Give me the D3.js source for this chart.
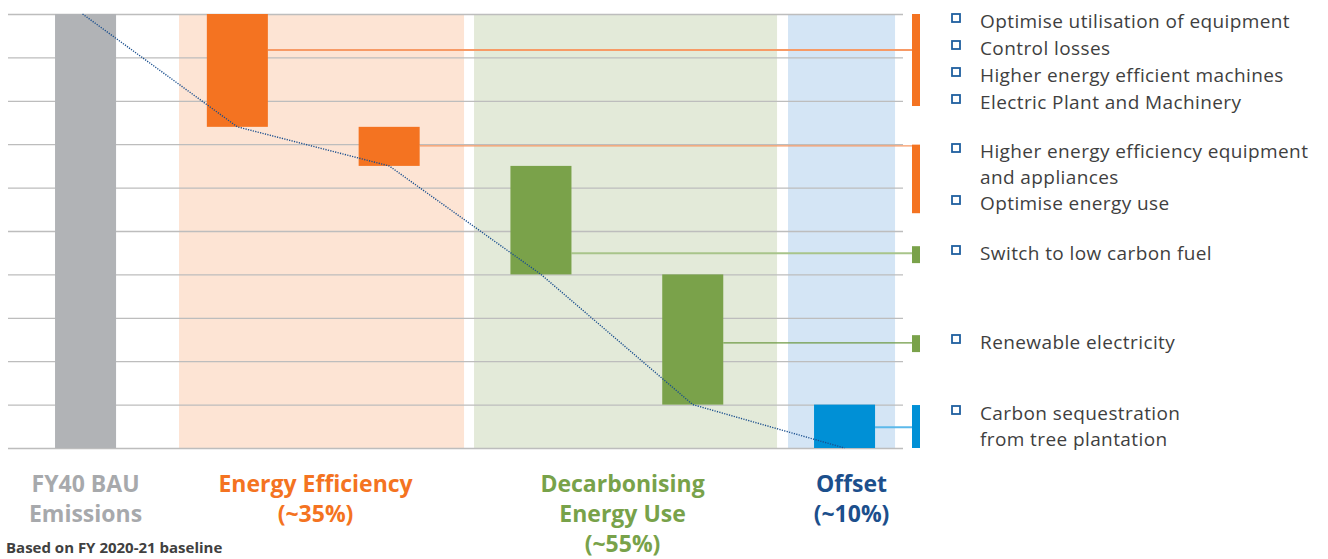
<!DOCTYPE html>
<html>
<head>
<meta charset="utf-8">
<script src="https://cdn.jsdelivr.net/npm/d3@7"></script>
<style>
  html, body { margin: 0; padding: 0; background: #fff; }
  svg { display: block; font-family: "Open Sans", "Noto Sans", sans-serif; }
</style>
</head>
<body>
<script>
// waterfall steps: name, group, drop in % of BAU
const steps = ["BAU", "EE1", "EE2", "DE1", "DE2", "OFF"]
const stepGroup = ["bau", "ee", "ee", "de", "de", "off"]
const stepDrop = [100, 26, 9, 25, 30, 10]

// lever markers on the right (value ranges) and connector levels
const leverRanges = [[100, 78.8], [69.9, 54.1], [46.5, 42.6], [26, 22.1], [9.9, 0]]
const leverFrom = ["EE1", "EE2", "DE1", "DE2", "OFF"]
const leverLevel = [91.7, 69.6, 44.9, 24.2, 4.8]
const leverGroup = ["ee", "ee", "de", "de", "off"]

const legendItems = [
    ["Optimise utilisation of equipment"],
    ["Control losses"],
    ["Higher energy efficient machines"],
    ["Electric Plant and Machinery"],
    ["Higher energy efficiency equipment", "and appliances"],
    ["Optimise energy use"],
    ["Switch to low carbon fuel"],
    ["Renewable electricity"],
    ["Carbon sequestration", "from tree plantation"],
]
const legendY = [21, 48, 75, 102, 151, 203, 253, 342, 413]

const groupLabels = {
    bau: ["FY40 BAU", "Emissions"],
    ee: ["Energy Efficiency", "(~35%)"],
    de: ["Decarbonising", "Energy Use", "(~55%)"],
    off: ["Offset", "(~10%)"],
}
const yTicks = d3.range(0, 101, 10)

const colors = {
    bau: "#b1b3b6", ee: "#f47321", de: "#7aa24a", off: "#0090d6",
}
const bandColors = { ee: "#fde4d4", de: "#e3ead9", off: "#d4e5f5" }
const connColors = { ee: "#f79a66", de: "#a8c48a", off: "#5cb9ea" }
const labelColors = { bau: "#a7a9ac", ee: "#f47321", de: "#78a24a", off: "#1c4f8c" }

const width = 1328, height = 559

const svg = d3.select("body").append("svg")
    .attr("width", width)
    .attr("height", height)

const x = d3.scaleBand()
    .domain(steps)
    .range([9.5, 920.6])
    .paddingInner(0.598)
    .paddingOuter(0.3)
const y = d3.scaleLinear().domain([0, 100]).range([448, 14])
const bw = x.bandwidth()

// running totals
let level = 0
const bars = steps.map((s, i) => {
    let top, bottom
    if (i === 0) { top = stepDrop[0]; bottom = 0; level = top }
    else { top = level; bottom = level - stepDrop[i]; level = bottom }
    return { step: s, group: stepGroup[i], top, bottom }
})

// background bands for the lever groups
const bandPad = { ee: [-27.8, 44.4], de: [-36.4, 53.8], off: [-26, 20] }
const bands = ["ee", "de", "off"].map((g) => {
    const members = steps.filter((s, i) => stepGroup[i] === g)
    return {
        group: g,
        x0: x(members[0]) + bandPad[g][0],
        x1: x(members[members.length - 1]) + bw + bandPad[g][1],
    }
})
svg.selectAll("rect.band")
    .data(bands)
    .join("rect")
    .attr("class", "band")
    .attr("x", (d) => d.x0)
    .attr("y", y(100))
    .attr("width", (d) => d.x1 - d.x0)
    .attr("height", y(0) - y(100))
    .attr("fill", (d) => bandColors[d.group])

// gridlines
svg.append("g")
    .attr("transform", "translate(8,0)")
    .call(d3.axisLeft(y).tickValues(yTicks).tickSize(-895).tickFormat(""))
    .call((g) => g.select(".domain").remove())
    .call((g) => g.selectAll("line")
        .attr("stroke", "#bdbdbd")
        .attr("stroke-width", 1.3))

// connector lines to lever markers
const markerX = 912
svg.selectAll("line.conn")
    .data(leverFrom)
    .join("line")
    .attr("class", "conn")
    .attr("x1", (d) => x(d) + bw)
    .attr("x2", markerX)
    .attr("y1", (_, i) => y(leverLevel[i]))
    .attr("y2", (_, i) => y(leverLevel[i]))
    .attr("stroke", (_, i) => i === 3 ? "#6f9a45" : connColors[leverGroup[i]])
    .attr("stroke-width", (_, i) => i === 1 || i === 3 ? 1.2 : 2)

// waterfall bars
svg.selectAll("rect.bar")
    .data(bars)
    .join("rect")
    .attr("class", "bar")
    .attr("x", (d) => x(d.step))
    .attr("y", (d) => y(d.top))
    .attr("width", bw)
    .attr("height", (d) => y(d.bottom) - y(d.top))
    .attr("fill", (d) => colors[d.group])

// dotted trend through the steps
const trend = bars.map((d, i) => [x(d.step) + bw / 2 - (i === 0 ? 3 : 0), y(i === 0 ? d.top : d.bottom)])
svg.append("path")
    .attr("d", d3.line()(trend))
    .attr("fill", "none")
    .attr("stroke", "#1a4f8e")
    .attr("stroke-width", 1.4)
    .attr("stroke-dasharray", "1.2,1.3")

// lever markers
svg.selectAll("rect.lever")
    .data(leverRanges)
    .join("rect")
    .attr("class", "lever")
    .attr("x", markerX)
    .attr("y", (d) => y(d[0]))
    .attr("width", 8)
    .attr("height", (d) => y(d[1]) - y(d[0]))
    .attr("fill", (_, i) => colors[leverGroup[i]])

// legend (wrapped lines as separate texts)
const leg = svg.selectAll("g.leg")
    .data(legendItems)
    .join("g")
    .attr("class", "leg")
    .attr("transform", (_, i) => `translate(0,${legendY[i]})`)
leg.append("rect")
    .attr("x", 952)
    .attr("y", -7)
    .attr("width", 8)
    .attr("height", 8)
    .attr("fill", "none")
    .attr("stroke", "#1f5f9f")
    .attr("stroke-width", 1.8)
leg.selectAll("text")
    .data((d) => d)
    .join("text")
    .attr("x", 980)
    .attr("y", (_, j) => j * 26)
    .attr("dy", "0.35em")
    .attr("fill", "#3f3f3f")
    .attr("font-size", 19)
    .attr("letter-spacing", 0.4)
    .text((d) => d)

// group labels under the chart
const labelCenter = {
    bau: x("BAU") + bw / 2,
    ee: (bands[0].x0 + bands[0].x1) / 2 - 6,
    de: (bands[1].x0 + bands[1].x1) / 2 - 3,
    off: (bands[2].x0 + bands[2].x1) / 2 + 10,
}
Object.keys(groupLabels).forEach((g) => {
    svg.append("text")
        .attr("x", labelCenter[g])
        .attr("y", 492)
        .attr("text-anchor", "middle")
        .attr("font-weight", "bold")
        .attr("font-size", 23)
        .attr("fill", labelColors[g])
        .selectAll("tspan")
        .data(groupLabels[g])
        .join("tspan")
        .attr("x", labelCenter[g])
        .attr("dy", (_, j) => j === 0 ? 0 : 30)
        .text((d) => d)
})

svg.append("text")
    .attr("x", 6)
    .attr("y", 553)
    .attr("font-weight", "bold")
    .attr("font-size", 15)
    .attr("fill", "#404040")
    .text("Based on FY 2020-21 baseline")
</script>
</body>
</html>
